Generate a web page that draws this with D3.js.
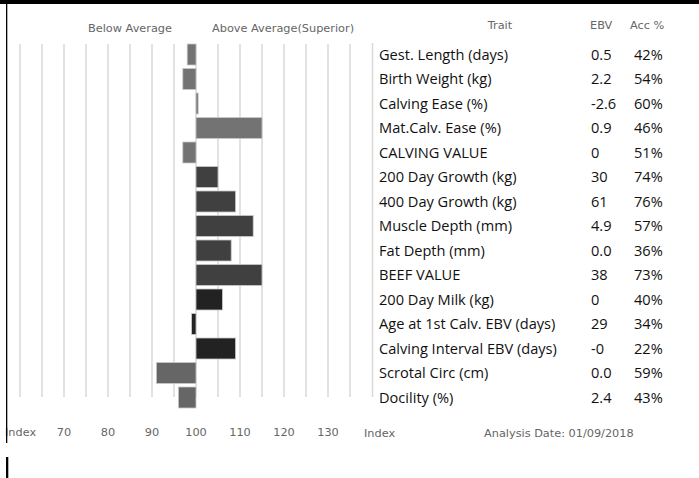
<!DOCTYPE html>
<html>
<head>
<meta charset="utf-8">
<script src="https://cdn.jsdelivr.net/npm/d3@7"></script>
<style>
  body { margin: 0; background: #fff; }
  svg { display: block; }
  .small { font-family: "DejaVu Sans", sans-serif; font-size: 11.3px; fill: #666; }
  .trait { font-family: "Open Sans", sans-serif; font-size: 14.6px; fill: #111; }
</style>
</head>
<body>
<div id="chart"></div>
<script>
// trait names, index values (bar length), EBV and accuracy columns
const traits = ["Gest. Length (days)", "Birth Weight (kg)", "Calving Ease (%)", "Mat.Calv. Ease (%)",
  "CALVING VALUE", "200 Day Growth (kg)", "400 Day Growth (kg)", "Muscle Depth (mm)", "Fat Depth (mm)",
  "BEEF VALUE", "200 Day Milk (kg)", "Age at 1st Calv. EBV (days)", "Calving Interval EBV (days)",
  "Scrotal Circ (cm)", "Docility (%)"];
const indexValues = [98, 97, 100.5, 115, 97, 105, 109, 113, 108, 115, 106, 99, 109, 91, 96];
const ebv = ["0.5", "2.2", "-2.6", "0.9", "0", "30", "61", "4.9", "0.0", "38", "0", "29", "-0", "0.0", "2.4"];
const acc = ["42%", "54%", "60%", "46%", "51%", "74%", "76%", "57%", "36%", "73%", "40%", "34%", "22%", "59%", "43%"];
const groups = ["calving", "calving", "calving", "calving", "calving", "growth", "growth", "growth", "growth",
  "growth", "fertility", "fertility", "fertility", "other", "other"];
const tickLabels = [70, 80, 90, 100, 110, 120, 130];

const groupColor = { calving: "#737373", growth: "#404040", fertility: "#222222", other: "#666666" };

const W = 699, H = 478;
const svg = d3.select("#chart").append("svg").attr("width", W).attr("height", H);

let x = d3.scaleLinear().domain([60, 135]).range([20, 350]);
let y = d3.scaleBand().domain(traits).range([42.25, 409.75]).paddingInner(0.143).paddingOuter(0.0715);

// grid lines every 5 index points
svg.append("g").selectAll("line")
  .data(d3.range(60, 140, 5))
  .join("line")
  .attr("x1", d => x(d)).attr("x2", d => x(d))
  .attr("y1", 44).attr("y2", 397)
  .attr("stroke", "#d9d9d9").attr("stroke-width", 1.5);

// separator before trait column
svg.append("line").attr("x1", 372.5).attr("x2", 372.5).attr("y1", 43).attr("y2", 397)
  .attr("stroke", "#d9d9d9").attr("stroke-width", 1.5);

// bars
svg.append("g").selectAll("rect")
  .data(traits)
  .join("rect")
  .attr("x", (d, i) => x(Math.min(100, indexValues[i])))
  .attr("width", (d, i) => Math.abs(x(indexValues[i]) - x(100)))
  .attr("y", d => y(d))
  .attr("height", y.bandwidth())
  .attr("fill", (d, i) => groupColor[groups[i]])
  .attr("stroke", "#c8c8c8").attr("stroke-width", 0.8);

// headers
svg.append("text").attr("class", "small").attr("x", 88).attr("y", 32).text("Below Average");
svg.append("text").attr("class", "small").attr("x", 212).attr("y", 32).text("Above Average(Superior)");
svg.append("text").attr("class", "small").attr("x", 500).attr("y", 29).attr("text-anchor", "middle").text("Trait");
svg.append("text").attr("class", "small").attr("x", 590).attr("y", 29).text("EBV");
svg.append("text").attr("class", "small").attr("x", 630).attr("y", 29).text("Acc %");

// trait table
const rows = svg.append("g").selectAll("g")
  .data(traits)
  .join("g")
  .attr("transform", d => `translate(0,${y(d) + y.bandwidth() / 2})`);
rows.append("text").attr("class", "trait").attr("x", 379).attr("dy", "0.35em").text(d => d);
rows.append("text").attr("class", "trait").attr("x", 591).attr("dy", "0.35em").text((d, i) => ebv[i]);
rows.append("text").attr("class", "trait").attr("x", 634).attr("dy", "0.35em").text((d, i) => acc[i]);

// bottom axis labels
svg.append("g").selectAll("text")
  .data(tickLabels)
  .join("text")
  .attr("class", "small")
  .attr("x", d => x(d)).attr("y", 436)
  .attr("text-anchor", "middle")
  .text(d => d);
svg.append("text").attr("class", "small").attr("x", 5).attr("y", 436).text("Index");
svg.append("text").attr("class", "small").attr("x", 364).attr("y", 437).text("Index");
svg.append("text").attr("class", "small").attr("x", 484).attr("y", 437).text("Analysis Date: 01/09/2018");

// frame pieces
svg.append("rect").attr("x", 0).attr("y", 0).attr("width", W).attr("height", 4).attr("fill", "#000");
svg.append("rect").attr("x", 6).attr("y", 0).attr("width", 1.3).attr("height", 443).attr("fill", "#000");
svg.append("rect").attr("x", 6).attr("y", 457).attr("width", 2.3).attr("height", 21).attr("fill", "#000");
</script>
</body>
</html>
